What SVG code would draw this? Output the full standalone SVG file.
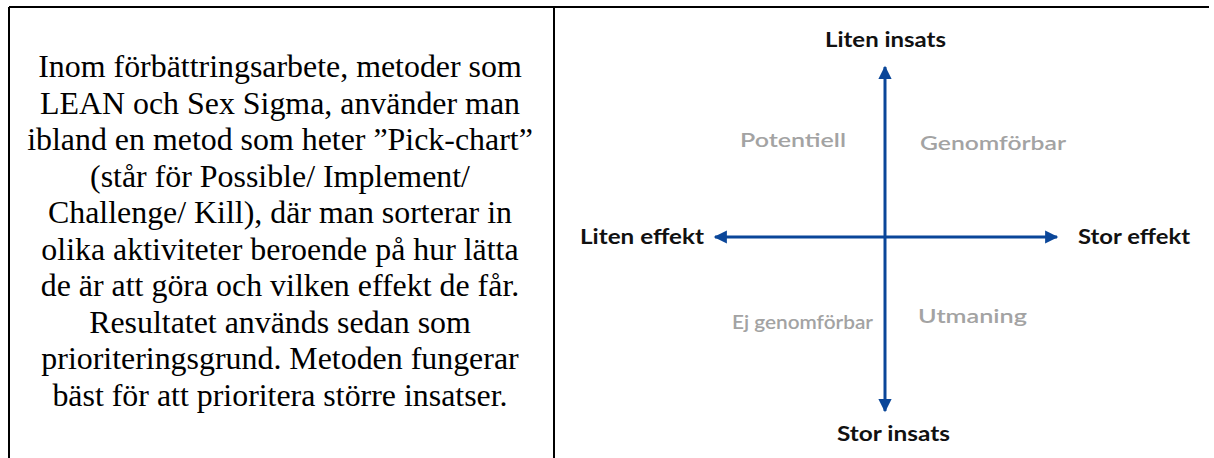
<svg xmlns="http://www.w3.org/2000/svg" width="1214" height="458" viewBox="0 0 1214 458">
<defs>
<style>
.body{font-family:"Liberation Serif","Times New Roman",serif;font-size:31.9px;fill:#000;text-anchor:middle}
.ax{font-family:Lato,"Open Sans",sans-serif;font-weight:bold;font-size:20px;fill:#111}
.q{font-family:Lato,"Open Sans",sans-serif;font-weight:600;font-size:20px;fill:#a3a3a3}
.border{stroke:#000;stroke-width:2;fill:none}
.axis{stroke:#0a4699;stroke-width:3;fill:none}
</style>
<marker id="ah" viewBox="0 0 10 10" refX="9" refY="5" markerWidth="5" markerHeight="4.4" markerUnits="strokeWidth" orient="auto">
<path d="M0,0 L10,5 L0,10 z" fill="#0a4699"/>
</marker>
</defs>
<g id="table">
<line class="border" x1="9" y1="7" x2="1209" y2="7"/>
<line class="border" x1="9" y1="7" x2="9" y2="458"/>
<line class="border" x1="554" y1="7" x2="554" y2="458"/>
</g>
<g id="description">
<text class="body" x="280" y="77">Inom förbättringsarbete, metoder som</text>
<text class="body" x="280" y="113.5">LEAN och Sex Sigma, använder man</text>
<text class="body" x="280" y="150">ibland en metod som heter ”Pick-chart”</text>
<text class="body" x="280" y="186.5">(står för Possible/ Implement/</text>
<text class="body" x="280" y="223">Challenge/ Kill), där man sorterar in</text>
<text class="body" x="280" y="259.5">olika aktiviteter beroende på hur lätta</text>
<text class="body" x="280" y="296">de är att göra och vilken effekt de får.</text>
<text class="body" x="280" y="332.5">Resultatet används sedan som</text>
<text class="body" x="280" y="369">prioriteringsgrund. Metoden fungerar</text>
<text class="body" x="280" y="405.5">bäst för att prioritera större insatser.</text>
</g>
<g id="connectors">
<line class="axis" x1="885" y1="237" x2="885" y2="67" marker-end="url(#ah)"/>
<line class="axis" x1="885" y1="237" x2="885" y2="411" marker-end="url(#ah)"/>
<line class="axis" x1="885" y1="237" x2="715" y2="237" marker-end="url(#ah)"/>
<line class="axis" x1="885" y1="237" x2="1057" y2="237" marker-end="url(#ah)"/>
</g>
<g id="liten-insats"><text class="ax" x="825" y="47" textLength="121" lengthAdjust="spacingAndGlyphs">Liten insats</text></g>
<g id="stor-insats"><text class="ax" x="837" y="441" textLength="113" lengthAdjust="spacingAndGlyphs">Stor insats</text></g>
<g id="liten-effekt"><text class="ax" x="580" y="244" textLength="124" lengthAdjust="spacingAndGlyphs">Liten effekt</text></g>
<g id="stor-effekt"><text class="ax" x="1078" y="244" textLength="112" lengthAdjust="spacingAndGlyphs">Stor effekt</text></g>
<g id="potentiell"><text class="q" x="740" y="147" textLength="106" lengthAdjust="spacingAndGlyphs">Potentiell</text></g>
<g id="genomforbar"><text class="q" x="920" y="150" textLength="146" lengthAdjust="spacingAndGlyphs">Genomförbar</text></g>
<g id="ej-genomforbar"><text class="q" x="732" y="329" textLength="141" lengthAdjust="spacingAndGlyphs">Ej genomförbar</text></g>
<g id="utmaning"><text class="q" x="918" y="323" textLength="109" lengthAdjust="spacingAndGlyphs">Utmaning</text></g>
</svg>
